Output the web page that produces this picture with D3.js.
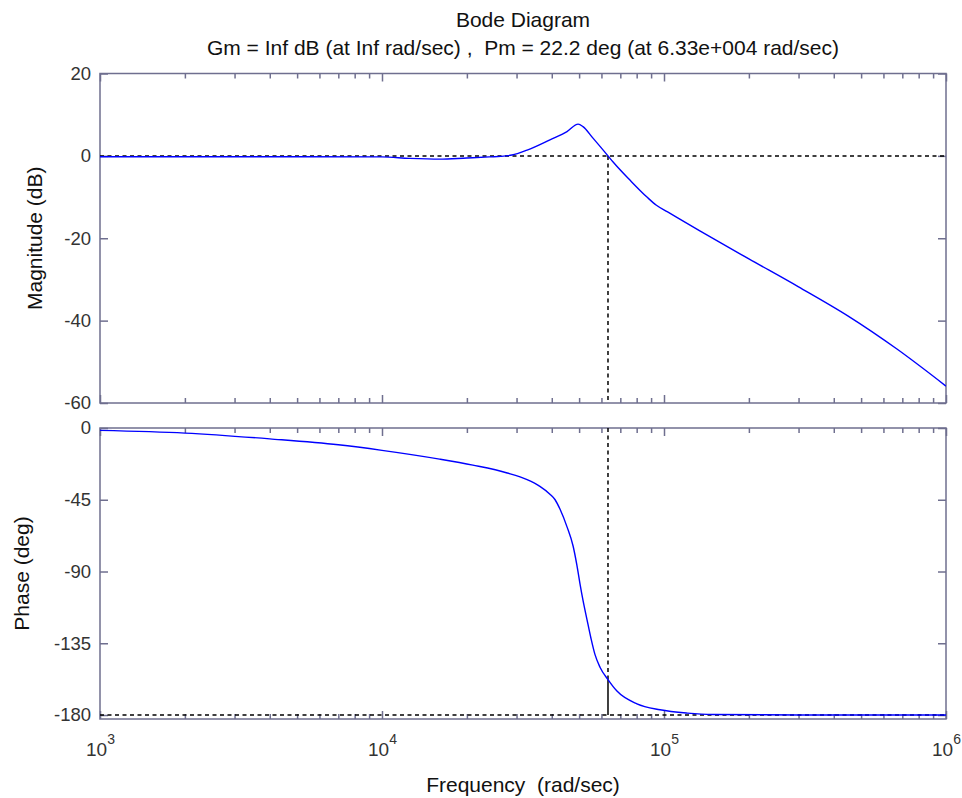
<!DOCTYPE html>
<html>
<head>
<meta charset="utf-8">
<script src="https://cdn.jsdelivr.net/npm/d3@7"></script>
<style>
  body { margin: 0; background: #fff; }
  svg { display: block; font-family: "Liberation Sans", Arial, sans-serif; }
  text { white-space: pre; }
</style>
</head>
<body>
<div id="bode"></div>
<script>
// bode diagram, values

const freqMag = [1e3, 3e3, 1e4, 1.25e4, 1.6e4, 2e4, 2.4e4, 2.75e4, 2.89e4, 3.27e4, 3.94e4, 4.53e4, 4.96e4,
  5.16e4, 5.6e4, 6.33e4, 6.6e4, 7.6e4, 8.7e4, 9.4e4, 1.03e5, 1.34e5, 2e5, 3e5, 4.5e5, 6.7e5, 1e6];
const magDb = [-0.2, -0.2, -0.25, -0.6, -0.8, -0.5, -0.25, 0.0, 0.2, 1.4, 3.9, 5.9, 7.7,
  7.1, 4.3, 0.0, -1.5, -6.0, -10.0, -12.0, -13.6, -18.2, -25.0, -31.8, -38.9, -46.9, -55.9];

const freqPh = [1e3, 2e3, 4e3, 7e3, 1e4, 1.6e4, 2.1e4, 2.78e4, 3.27e4, 3.63e4, 3.94e4, 4.11e4, 4.28e4,
  4.53e4, 4.76e4, 4.91e4, 5.04e4, 5.16e4, 5.33e4, 5.51e4, 5.69e4, 5.93e4, 6.33e4, 6.81e4, 8.02e4,
  9.68e4, 1.21e5, 1.49e5, 3e5, 1e6];
const phaseDeg = [-1.5, -3.2, -6.8, -10.5, -14, -19.5, -23.3, -28.2, -32.4, -36.6, -41.5, -45, -51,
  -62, -74, -86, -98, -108, -120, -132, -142, -150, -157.8, -165, -173,
  -176.7, -178.8, -179.7, -180, -180];

const magTicks = [20, 0, -20, -40, -60];
const phaseTicks = [0, -45, -90, -135, -180];
const decades = [3, 4, 5, 6];

const titleText = "Bode Diagram";
const subtitleText = "Gm = Inf dB (at Inf rad/sec) ,  Pm = 22.2 deg (at 6.33e+004 rad/sec)";
const wc = 6.33e4;      // crossover
const pmPhase = -157.8; // -180 + 22.2

const width = 962, height = 798;
const left = 100, right = 946;
const frameColor = "#6f6f8f";
const labelSize = 21, tickSize = 18.5;

const svg = d3.select("#bode").append("svg")
  .attr("width", width)
  .attr("height", height);

const x = d3.scaleLog().domain([1e3, 1e6]).range([left, right]);
const yMag = d3.scaleLinear().domain([-60, 20]).range([403, 73.5]);
const yPh = d3.scaleLinear().domain([-182.5, 0]).range([719, 428]);

const majorX = decades.map(e => Math.pow(10, e));
const minorX = [];
decades.slice(0, -1).forEach(e => {
  for (let k = 2; k <= 9; k++) minorX.push(k * Math.pow(10, e));
});

function drawPanel(y, ticks, id, labelText, labelX) {
  const g = svg.append("g");
  const top = y.range()[1], bottom = y.range()[0];

  svg.append("clipPath").attr("id", id)
    .append("rect").attr("x", left).attr("y", top)
    .attr("width", right - left).attr("height", bottom - top);

  // inward ticks on all four sides
  const axL = g.append("g").attr("transform", `translate(${left},0)`)
    .call(d3.axisLeft(y).tickValues(ticks).tickSizeInner(-8).tickSizeOuter(0).tickPadding(9)
      .tickFormat(d => String(d)));
  g.append("g").attr("transform", `translate(${right},0)`)
    .call(d3.axisRight(y).tickValues(ticks).tickSizeInner(-8).tickSizeOuter(0).tickFormat(""));
  [bottom, top].forEach((yy, i) => {
    const mk = i === 0 ? d3.axisBottom : d3.axisTop;
    g.append("g").attr("transform", `translate(0,${yy})`)
      .call(mk(x).tickValues(majorX).tickSizeInner(-8).tickSizeOuter(0).tickFormat(""));
    g.append("g").attr("transform", `translate(0,${yy})`)
      .call(mk(x).tickValues(minorX).tickSizeInner(-5).tickSizeOuter(0).tickFormat(""));
  });
  g.selectAll(".domain").remove();
  g.selectAll(".tick line").attr("stroke", frameColor).attr("stroke-width", 1.5);
  axL.selectAll("text").attr("font-size", tickSize).attr("fill", "#333")
    .attr("font-family", "Liberation Sans, Arial, sans-serif");

  g.append("rect")
    .attr("x", left).attr("y", top)
    .attr("width", right - left).attr("height", bottom - top)
    .attr("fill", "none").attr("stroke", frameColor).attr("stroke-width", 1.5);

  svg.append("text")
    .attr("transform", `translate(${labelX},${(top + bottom) / 2}) rotate(-90)`)
    .attr("text-anchor", "middle")
    .attr("font-size", labelSize)
    .attr("fill", "#111")
    .text(labelText);
}

drawPanel(yMag, magTicks, "clipMag", "Magnitude (dB)", 42);
drawPanel(yPh, phaseTicks, "clipPh", "Phase (deg)", 29);

// decade labels under the bottom panel
const xl = svg.append("g").attr("transform", "translate(0,719)")
  .call(d3.axisBottom(x).tickValues(majorX).tickSize(0).tickPadding(0).tickFormat(() => ""));
xl.select(".domain").remove();
xl.selectAll(".tick").each(function(d) {
  const t = d3.select(this).append("text")
    .attr("y", 37).attr("fill", "#333").attr("font-size", 19)
    .attr("text-anchor", "middle");
  t.append("tspan").text("10");
  t.append("tspan").attr("dy", -12).attr("font-size", 14).text(Math.round(Math.log10(d)));
});

svg.append("text")
  .attr("x", (left + right) / 2).attr("y", 792)
  .attr("text-anchor", "middle").attr("font-size", labelSize).attr("fill", "#111")
  .text("Frequency  (rad/sec)");

svg.append("text")
  .attr("x", (left + right) / 2).attr("y", 27)
  .attr("text-anchor", "middle").attr("font-size", labelSize).attr("fill", "#111")
  .text(titleText);
svg.append("text")
  .attr("x", (left + right) / 2).attr("y", 55)
  .attr("text-anchor", "middle").attr("font-size", labelSize).attr("fill", "#111")
  .text(subtitleText);

// reference lines
const dash = "4,3.5";
svg.append("line")
  .attr("x1", left).attr("x2", right).attr("y1", yMag(0)).attr("y2", yMag(0))
  .attr("stroke", "#000").attr("stroke-width", 1.5).attr("stroke-dasharray", dash);
svg.append("line")
  .attr("x1", left).attr("x2", right).attr("y1", yPh(-180)).attr("y2", yPh(-180))
  .attr("stroke", "#000").attr("stroke-width", 1.5).attr("stroke-dasharray", dash);
svg.append("line")
  .attr("x1", x(wc)).attr("x2", x(wc)).attr("y1", yMag(0)).attr("y2", yMag.range()[0])
  .attr("stroke", "#000").attr("stroke-width", 1.5).attr("stroke-dasharray", dash);
svg.append("line")
  .attr("x1", x(wc)).attr("x2", x(wc)).attr("y1", yPh(0)).attr("y2", yPh(pmPhase))
  .attr("stroke", "#000").attr("stroke-width", 1.5).attr("stroke-dasharray", dash);
svg.append("line")
  .attr("x1", x(wc)).attr("x2", x(wc)).attr("y1", yPh(pmPhase)).attr("y2", yPh(-180))
  .attr("stroke", "#000").attr("stroke-width", 1.5);

// curves
const magLine = d3.line()
  .x((d, i) => x(freqMag[i]))
  .y(d => yMag(d))
  .curve(d3.curveMonotoneX);
svg.append("path")
  .attr("clip-path", "url(#clipMag)")
  .attr("d", magLine(magDb))
  .attr("fill", "none").attr("stroke", "#0000ff").attr("stroke-width", 1.4);

const phLine = d3.line()
  .x((d, i) => x(freqPh[i]))
  .y(d => yPh(d))
  .curve(d3.curveMonotoneX);
svg.append("path")
  .attr("clip-path", "url(#clipPh)")
  .attr("d", phLine(phaseDeg))
  .attr("fill", "none").attr("stroke", "#0000ff").attr("stroke-width", 1.4);
</script>
</body>
</html>
